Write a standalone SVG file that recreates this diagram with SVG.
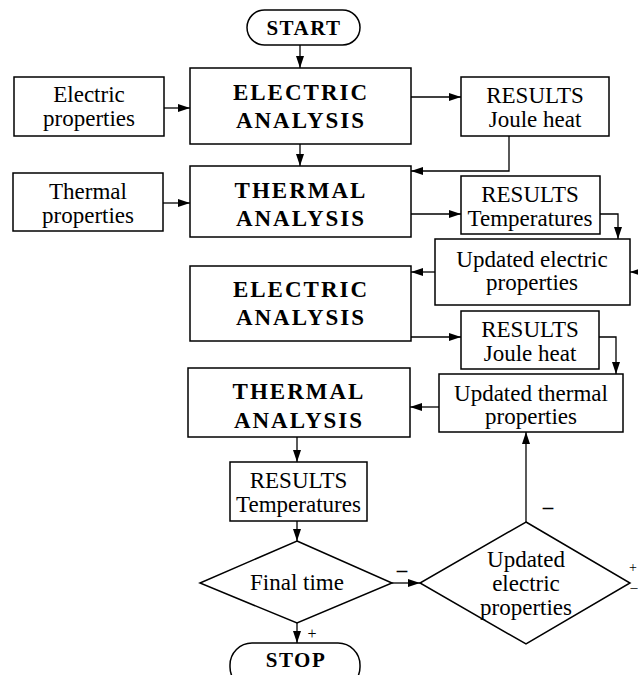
<svg xmlns="http://www.w3.org/2000/svg" width="638" height="675" viewBox="0 0 638 675">
<style>
.b{fill:#fff;stroke:#000;stroke-width:1.5}
.c{fill:none;stroke:#000;stroke-width:1.3}
.t{font-family:"Liberation Serif","Times New Roman",serif;font-size:23px;text-anchor:middle;fill:#000}
.h{font-family:"Liberation Serif","Times New Roman",serif;font-size:23px;font-weight:bold;letter-spacing:2px;text-anchor:middle;fill:#000}
.s{font-family:"Liberation Serif","Times New Roman",serif;font-size:16px;text-anchor:middle;fill:#000}
.e{font-family:"Liberation Serif","Times New Roman",serif;font-size:14px;text-anchor:middle;fill:#000}
.d{font-family:"Liberation Serif","Times New Roman",serif;font-size:21px;font-weight:bold;text-anchor:middle;fill:#000}
</style>
<defs>
<marker id="a" viewBox="0 0 12 8" refX="12" refY="4" markerWidth="12" markerHeight="8" markerUnits="userSpaceOnUse" orient="auto"><path d="M0,0L12,4L0,8z" fill="#000"/></marker>
</defs>
<g id="connectors">
<path class="c" d="M300,45V68" marker-end="url(#a)"/>
<path class="c" d="M164,108H190" marker-end="url(#a)"/>
<path class="c" d="M411,97H461" marker-end="url(#a)"/>
<path class="c" d="M509,136V171H411" marker-end="url(#a)"/>
<path class="c" d="M300,144V166" marker-end="url(#a)"/>
<path class="c" d="M163,203H190" marker-end="url(#a)"/>
<path class="c" d="M411,214H461" marker-end="url(#a)"/>
<path class="c" d="M600,214H618V239" marker-end="url(#a)"/>
<path class="c" d="M638,272H630" marker-end="url(#a)"/>
<path class="c" d="M435,272H411" marker-end="url(#a)"/>
<path class="c" d="M411,337H461" marker-end="url(#a)"/>
<path class="c" d="M599,337H616V374" marker-end="url(#a)"/>
<path class="c" d="M439,407H410" marker-end="url(#a)"/>
<path class="c" d="M526,522V432" marker-end="url(#a)"/>
<path class="c" d="M297,437V462" marker-end="url(#a)"/>
<path class="c" d="M297,521V541" marker-end="url(#a)"/>
<path class="c" d="M297,623V643" marker-end="url(#a)"/>
<path class="c" d="M392,583H420" marker-end="url(#a)"/>
</g>
<g id="start"><rect class="b" x="247" y="10" width="113" height="35" rx="17.5"/><text class="h" x="304" y="35" style="font-size:21px;letter-spacing:1.5px">START</text></g>
<g id="elec-analysis-1"><rect class="b" x="190" y="68" width="221" height="76"/><text class="h" x="301" y="100">ELECTRIC</text><text class="h" x="301" y="128">ANALYSIS</text></g>
<g id="electric-properties"><rect class="b" x="14" y="77" width="150" height="59"/><text class="t" x="89" y="102">Electric</text><text class="t" x="89" y="126">properties</text></g>
<g id="results-joule-1"><rect class="b" x="461" y="77" width="148" height="59"/><text class="t" x="535" y="103">RESULTS</text><text class="t" x="535" y="127">Joule heat</text></g>
<g id="thermal-analysis-1"><rect class="b" x="190" y="166" width="221" height="71"/><text class="h" x="301" y="198">THERMAL</text><text class="h" x="301" y="226">ANALYSIS</text></g>
<g id="thermal-properties"><rect class="b" x="13" y="173" width="150" height="58"/><text class="t" x="88" y="199">Thermal</text><text class="t" x="88" y="223">properties</text></g>
<g id="results-temp-1"><rect class="b" x="461" y="176" width="139" height="58"/><text class="t" x="530" y="202">RESULTS</text><text class="t" x="530" y="226">Temperatures</text></g>
<g id="updated-electric"><rect class="b" x="435" y="239" width="195" height="66"/><text class="t" x="532" y="267">Updated electric</text><text class="t" x="532" y="290">properties</text></g>
<g id="elec-analysis-2"><rect class="b" x="190" y="266" width="221" height="75"/><text class="h" x="301" y="297">ELECTRIC</text><text class="h" x="301" y="325">ANALYSIS</text></g>
<g id="results-joule-2"><rect class="b" x="461" y="311" width="138" height="58"/><text class="t" x="530" y="337">RESULTS</text><text class="t" x="530" y="361">Joule heat</text></g>
<g id="updated-thermal"><rect class="b" x="439" y="374" width="184" height="58"/><text class="t" x="531" y="401">Updated thermal</text><text class="t" x="531" y="424">properties</text></g>
<g id="thermal-analysis-2"><rect class="b" x="188" y="368" width="222" height="69"/><text class="h" x="299" y="399">THERMAL</text><text class="h" x="299" y="428">ANALYSIS</text></g>
<g id="results-temp-2"><rect class="b" x="230" y="462" width="137" height="59"/><text class="t" x="298.5" y="488">RESULTS</text><text class="t" x="298.5" y="512">Temperatures</text></g>
<g id="final-time"><polygon class="b" points="297,541 392,583 297,623 200,583"/><text class="t" x="297" y="590">Final time</text></g>
<g id="updated-decision"><polygon class="b" points="526,522 630,583 526,644 420,583"/><text class="t" x="526" y="567">Updated</text><text class="t" x="526" y="591">electric</text><text class="t" x="526" y="615">properties</text></g>
<g id="stop"><rect class="b" x="230" y="643" width="130" height="46" rx="22"/><text class="h" x="296" y="667" style="font-size:21px;letter-spacing:1.5px">STOP</text></g>
<g id="labels">
<text class="s" x="312" y="639">+</text>
<text class="d" x="402" y="577">–</text>
<text class="d" x="548" y="514">–</text>
<text class="e" x="633" y="572">+</text>
<text class="e" x="634" y="592">–</text>
</g>
</svg>
